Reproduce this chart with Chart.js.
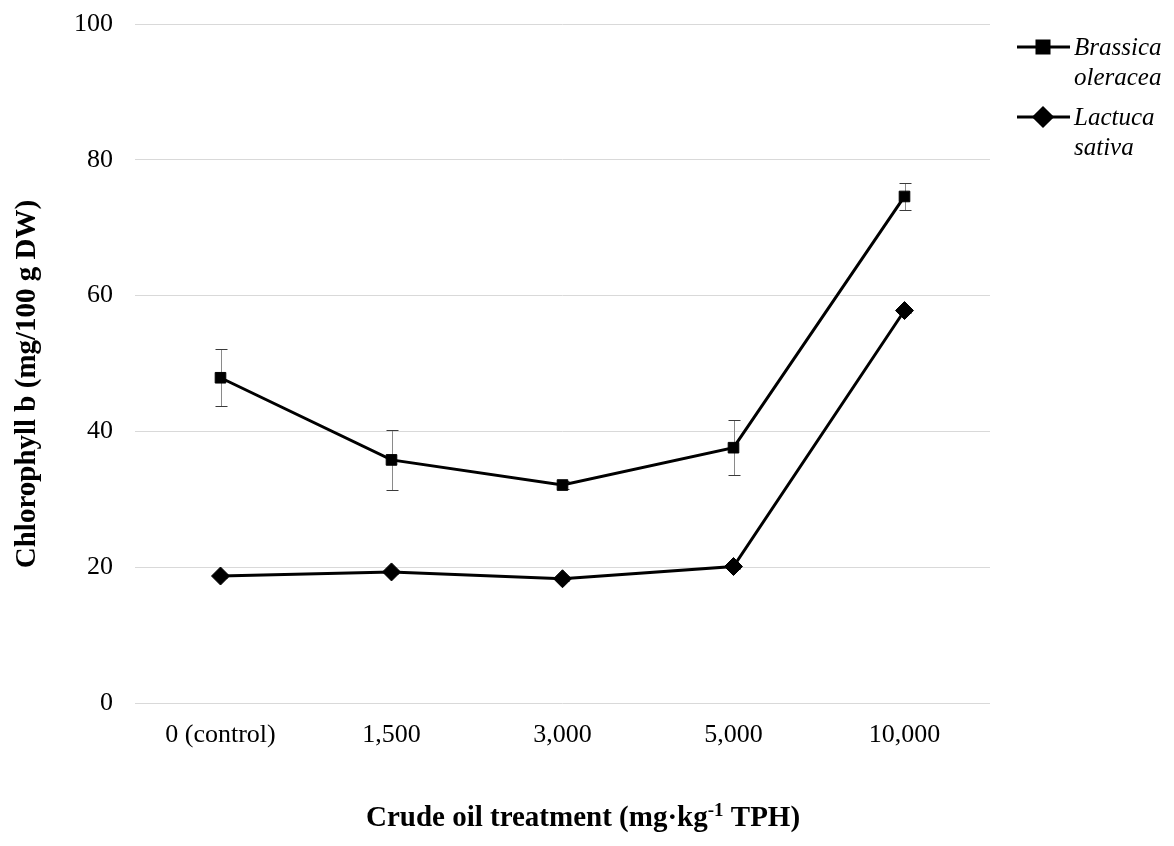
<!DOCTYPE html>
<html>
<head>
<meta charset="utf-8">
<script src="https://cdn.jsdelivr.net/npm/chart.js@4.4.1/dist/chart.umd.min.js"></script>
<style>
  html, body { margin: 0; padding: 0; background: #fff; }
  #wrap { width: 1174px; height: 846px; }
</style>
</head>
<body>
<div id="wrap"><canvas id="c" width="1174" height="846"></canvas></div>
<script>
// Chlorophyll b content under crude oil treatment
const categories = ['0 (control)', '1,500', '3,000', '5,000', '10,000'];
const brassica = [47.9, 35.8, 32.1, 37.6, 74.6];
const brassicaErr = [4.2, 4.4, 0.6, 4.05, 2.0];
const lactuca = [18.7, 19.3, 18.3, 20.1, 57.8];
const lactucaErr = [0.3, 0.3, 0.3, 0.3, 0.3];
const yTicks = [0, 20, 40, 60, 80, 100];
const seriesNames = ['Brassica oleracea', 'Lactuca sativa'];

const SERIF = '"Liberation Serif", "Times New Roman", serif';

// Vertical error bars with caps, drawn beneath the markers
const errorBars = {
  id: 'errorBars',
  beforeDatasetsDraw(chart) {
    const ctx = chart.ctx;
    const y = chart.scales.y;
    const x = chart.scales.x;
    ctx.save();
    chart.data.datasets.forEach(ds => {
      if (!ds.errors) return;
      ds.data.forEach((v, i) => {
        const e = ds.errors[i];
        const px = Math.round(x.getPixelForValue(i)) + 0.5;
        const top = Math.round(y.getPixelForValue(v + e)) + 0.5;
        const bot = Math.round(y.getPixelForValue(v - e)) + 0.5;
        ctx.lineWidth = 1;
        ctx.strokeStyle = '#8a8a8a';
        ctx.beginPath();
        ctx.moveTo(px, top);
        ctx.lineTo(px, bot);
        ctx.stroke();
        ctx.strokeStyle = '#3a3a3a';
        ctx.beginPath();
        ctx.moveTo(px - 6, top);
        ctx.lineTo(px + 6, top);
        ctx.moveTo(px - 6, bot);
        ctx.lineTo(px + 6, bot);
        ctx.stroke();
      });
    });
    ctx.restore();
  }
};

// Axis titles (x title carries a superscript exponent)
const axisTitles = {
  id: 'axisTitles',
  afterDraw(chart) {
    const ctx = chart.ctx;
    ctx.save();
    ctx.fillStyle = '#000';
    ctx.font = 'bold 29px ' + SERIF;
    ctx.textAlign = 'center';
    ctx.textBaseline = 'alphabetic';
    ctx.translate(35, 384);
    ctx.rotate(-Math.PI / 2);
    ctx.fillText('Chlorophyll b (mg/100 g DW)', 0, 0);
    ctx.restore();

    ctx.save();
    ctx.fillStyle = '#000';
    ctx.textBaseline = 'alphabetic';
    ctx.textAlign = 'left';
    const parts = [
      { t: 'Crude oil treatment (mg·kg', f: 'bold 29px ' + SERIF, dy: 0 },
      { t: '-1', f: 'bold 19px ' + SERIF, dy: -10 },
      { t: ' TPH)', f: 'bold 29px ' + SERIF, dy: 0 }
    ];
    let total = 0;
    parts.forEach(p => { ctx.font = p.f; p.w = ctx.measureText(p.t).width; total += p.w; });
    let cx = 583 - total / 2;
    const base = 826;
    parts.forEach(p => {
      ctx.font = p.f;
      ctx.fillText(p.t, cx, base + p.dy);
      cx += p.w;
    });
    ctx.restore();
  }
};

// Legend on the right: line with marker, italic two-line species names
const sideLegend = {
  id: 'sideLegend',
  afterDraw(chart) {
    const ctx = chart.ctx;
    ctx.save();
    chart.data.datasets.forEach((ds, i) => {
      const cy = 47 + i * 70;
      ctx.strokeStyle = '#000';
      ctx.lineWidth = 3;
      ctx.beginPath();
      ctx.moveTo(1017, cy);
      ctx.lineTo(1070, cy);
      ctx.stroke();
      ctx.fillStyle = '#000';
      Chart.helpers.drawPoint(ctx, {
        pointStyle: ds.pointStyle,
        radius: ds.pointStyle === 'rect' ? 8.5 : 9,
        rotation: 0,
        borderWidth: 1
      }, 1043, cy);
      ctx.fill();
      ctx.font = 'italic 25px ' + SERIF;
      ctx.textAlign = 'left';
      ctx.textBaseline = 'middle';
      const words = ds.label.split(' ');
      words.forEach((w, k) => ctx.fillText(w, 1074, cy + 1 + k * 30));
    });
    ctx.restore();
  }
};

new Chart(document.getElementById('c'), {
  type: 'line',
  data: {
    labels: categories,
    datasets: [
      {
        label: seriesNames[0],
        data: brassica,
        errors: brassicaErr,
        borderColor: '#000',
        backgroundColor: '#000',
        borderWidth: 3,
        pointStyle: 'rect',
        pointRadius: 7.5,
        pointBorderWidth: 1,
        tension: 0
      },
      {
        label: seriesNames[1],
        data: lactuca,
        errors: lactucaErr,
        borderColor: '#000',
        backgroundColor: '#000',
        borderWidth: 3,
        pointStyle: 'rectRot',
        pointRadius: 9,
        pointBorderWidth: 1,
        tension: 0
      }
    ]
  },
  options: {
    responsive: false,
    animation: false,
    devicePixelRatio: 1,
    layout: { padding: { top: 24, right: 184, bottom: 0, left: 0 } },
    plugins: {
      legend: { display: false },
      tooltip: { enabled: false }
    },
    scales: {
      x: {
        offset: true,
        grid: { display: false, drawTicks: false },
        border: { display: false },
        ticks: {
          color: '#000',
          font: { family: SERIF, size: 26 },
          padding: 17,
          maxRotation: 0
        },
        afterFit(scale) {
          scale.height = 143;
          scale.paddingLeft = 0;
          scale.paddingRight = 0;
        }
      },
      y: {
        min: 0,
        max: 100,
        afterBuildTicks(scale) { scale.ticks = yTicks.map(v => ({ value: v })); },
        grid: { color: '#d9d9d9', lineWidth: 1, drawTicks: false },
        border: { display: false },
        ticks: {
          color: '#000',
          font: { family: SERIF, size: 26 },
          padding: 22
        },
        afterFit(scale) {
          scale.width = 135;
          scale.paddingTop = 0;
          scale.paddingBottom = 0;
        }
      }
    }
  },
  plugins: [errorBars, axisTitles, sideLegend]
});
</script>
</body>
</html>
